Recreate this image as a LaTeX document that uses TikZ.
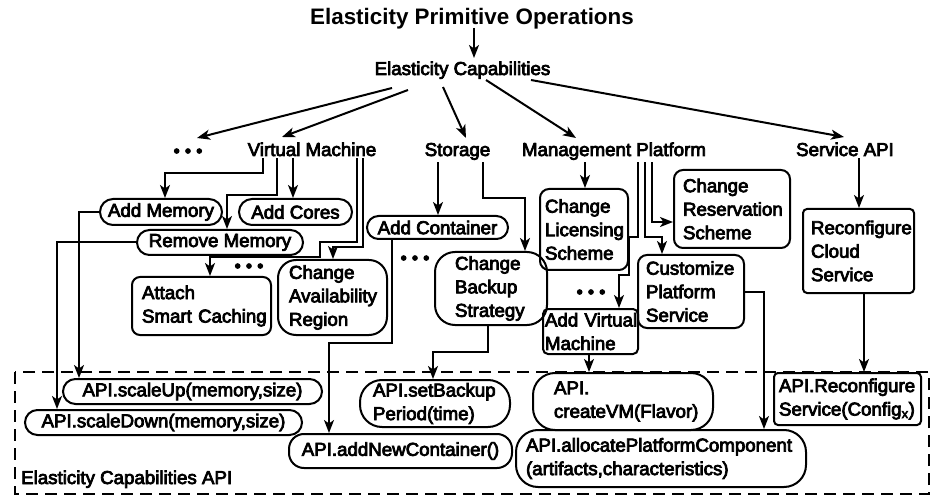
\documentclass[tikz,border=0pt]{standalone}
\usepackage{fontspec}
\setmainfont{Liberation Sans}
\newfontfamily\lbl{Liberation Sans}[FakeBold=4,RawFeature={embolden=4}]
\usetikzlibrary{arrows.meta}
\hyphenpenalty=10000
\exhyphenpenalty=10000

\begin{document}
\begin{tikzpicture}[x=1pt,y=-1pt,
  txt/.style={font=\lbl\fontsize{18.7}{23.5}\selectfont},
  lab/.style={txt, inner sep=2pt, anchor=base},
  dots/.style={font=\lbl\fontsize{18}{24}\selectfont, inner sep=1pt, anchor=base},
  cbox/.style={txt, draw, line width=2pt, inner ysep=0pt},
  pill/.style n args={3}{cbox, minimum width=#1pt, minimum height=#2pt, rounded corners=#3pt},
  mbox/.style n args={5}{cbox, align=left, minimum width=#1pt, minimum height=#2pt,
     inner xsep=#3pt, text width=#4pt, rounded corners=#5pt},
  arr/.style={line width=2pt, -{Stealth[length=13pt,width=10pt,inset=3.5pt]}},
  frame/.style={line width=2pt, dash pattern=on 12pt off 7pt}]
\useasboundingbox (0,0) rectangle (932,497);

% heading and the capability categories
\node[lab, font=\bfseries\fontsize{22.4}{26}\selectfont] (title) at (472,25) {Elasticity Primitive Operations};
\node[lab] (ec) at (462.5,75) {Elasticity Capabilities};
\node[dots] (dots1) at (188,157) {• • •};
\node[lab] (vm) at (312,156) {Virtual Machine};
\node[lab] (storage) at (457.5,156) {Storage};
\node[lab] (mp) at (614,156) {Management Platform};
\node[lab] (sapi) at (845,156) {Service API};

% capabilities
\node[pill={122}{26}{13}] (addmem) at (161,212) {Add Memory};
\node[pill={113}{26}{13}] (addcores) at (295.5,212) {Add Cores};
\node[pill={166}{25}{12.5}] (remmem) at (220,242.5) {Remove Memory};
\node[mbox={139}{58}{10}{119}{8}] (attach) at (201.5,306) {Attach\\Smart~Caching};
\node[dots] (dots2) at (249,272) {• • •};
\node[mbox={109}{75}{11}{87}{18}] (avail) at (332.5,297.5) {Change\\Availability\\Region};
\node[pill={141}{23}{11.5}] (addcont) at (437.5,227.5) {Add Container};
\node[dots] (dots3) at (415,264) {• • •};
\node[mbox={112}{73}{20}{72}{20}] (backup) at (491,288.5) {Change\\Backup\\Strategy};
\node[mbox={88}{81}{5}{78}{9}] (licensing) at (584,229.5) {Change\\Licensing\\Scheme};
\node[mbox={116}{78}{9}{98}{9}] (reservation) at (732,209) {Change\\Reservation\\Scheme};
\node[mbox={106}{73}{8}{90}{9}] (customize) at (691,291.5) {Customize\\Platform\\Service};
\node[dots] (dots4) at (591,298) {• • •};
\node[mbox={95}{45}{2}{91}{5}] (addvm) at (590.5,331.5) {Add~Virtual\\Machine};
\node[mbox={111}{84}{8}{95}{4}] (reconf) at (858.5,251) {Reconfigure\\Cloud\\Service};

% API layer
\draw[frame] (15,372) rectangle (929,494);
\node[lab, anchor=base west] (apilabel) at (19,484) {Elasticity Capabilities API};
\node[pill={259}{25}{12.5}] (scaleup) at (192.5,391.5) {API.scaleUp(memory,size)};
\node[pill={277}{25}{12.5}] (scaledown) at (163.5,422.5) {API.scaleDown(memory,size)};
\node[pill={223}{34}{15}] (addnew) at (400.5,451) {API.addNewContainer()};
\node[mbox={150}{47}{13}{124}{22}] (setbackup) at (435,403.5) {API.setBackup\\Period(time)};
\node[mbox={180}{57}{21}{138}{22}] (createvm) at (623,401.5) {API.\\createVM(Flavor)};
\node[mbox={290}{57}{10}{270}{22}] (allocate) at (661,458.5) {API.allocatePlatformComponent\\(artifacts,characteristics)};
\node[mbox={147}{52}{5}{137}{4}] (apireconf) at (847.5,399) {API.Reconfigure\\Service(Config\textsubscript{x})};

% top levels
\draw[arr] ([shift={(2,3)}]title.base) -- ([shift={(11.5,-17)}]ec.base);
\draw[arr] ([shift={(-70.5,13)}]ec.base) -- ([shift={(9,-19)}]dots1.base);
\draw[arr] ([shift={(-54.5,15)}]ec.base) -- ([shift={(-30,-19)}]vm.base);
\draw[arr] ([shift={(-19.5,12)}]ec.base) -- ([shift={(8.5,-18)}]storage.base);
\draw[arr] ([shift={(23.5,5)}]ec.base) -- ([shift={(-38,-18)}]mp.base);
\draw[arr] ([shift={(68.5,5)}]ec.base) -- ([shift={(-1,-19)}]sapi.base);

% virtual machine
\draw[arr] (vm.south -| 263,0) |- (165,173) -- (addmem.north -| 165,0);
\draw[arr] (vm.south -| 277,0) |- (227,195) -- (remmem.north -| 227,0);
\draw[arr] (vm.south -| 293,0) -- (addcores.north -| 293,0);
\draw[arr] (vm.south -| 357,0) |- (320,242) |- (210,257) -- (attach.north -| 210,0);
\draw[arr] (vm.south -| 363,0) |- (333,247) -- (avail.north -| 333,0);

% storage
\draw[arr] (storage.south -| 438,0) -- (addcont.north -| 438,0);
\draw[arr] (storage.south -| 483,0) |- (525,198) -- (backup.north -| 525,0);

% management platform
\draw[arr] (mp.south -| 585,0) -- (licensing.north -| 585,0);
\draw[arr] (mp.south -| 638,0) |- (629,237) |- (619,275) -- (addvm.north -| 619,0);
\draw[arr] (mp.south -| 645,0) |- (662,237) -- (customize.north -| 662,0);
\draw[arr] (mp.south -| 652,0) |- (reservation.west |- 0,222);

% service api
\draw[arr] (sapi.south -| 859,0) -- (reconf.north -| 859,0);

% capabilities to API calls
\draw[arr] (addmem.west) -| (scaleup.north -| 79,0);
\draw[arr] (remmem.west) -| (scaledown.north -| 57,0);
\draw[arr] (addcont.south -| 392,0) |- (329,343) -- (addnew.north -| 329,0);
\draw[arr] (backup.south -| 488,0) |- (433,352) -- (setbackup.north -| 433,0);
\draw[arr] (addvm.south -| 589,0) -- (createvm.north -| 589,0);
\draw[arr] (customize.east) -| (allocate.north -| 764,0);
\draw[arr] (reconf.south -| 864,0) -- (apireconf.north -| 864,0);
\end{tikzpicture}
\end{document}
